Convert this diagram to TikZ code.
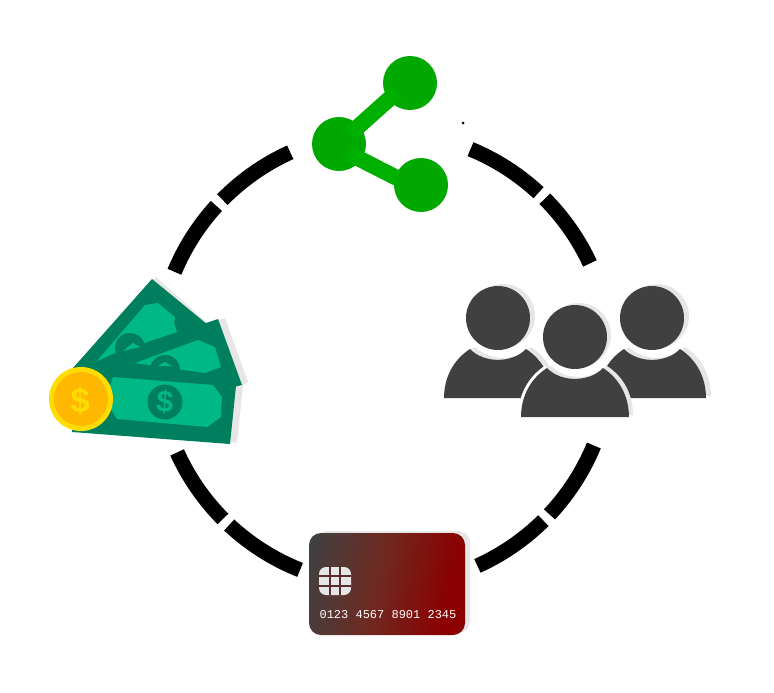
\documentclass[tikz,border=0pt]{standalone}
\usepackage{fontspec}
\setmainfont{Liberation Sans}
\setmonofont{Liberation Mono}
\definecolor{ringblack}{HTML}{000000}
\definecolor{shadowgrey}{HTML}{E6E6E6}
\definecolor{sharegreen}{HTML}{00A800}
\definecolor{sharebar}{HTML}{00B000}
\definecolor{peoplegrey}{HTML}{404040}
\definecolor{billdark}{HTML}{007F5F}
\definecolor{billlight}{HTML}{00B884}
\definecolor{coinrim}{HTML}{FFDD00}
\definecolor{coinfill}{HTML}{FFB700}
\definecolor{cardred}{HTML}{8B0000}
\definecolor{cardbrown}{HTML}{6E2A22}
\pgfdeclarehorizontalshading{cardfade}{100bp}{color(0bp)=(peoplegrey); color(22bp)=(peoplegrey); color(46bp)=(cardbrown); color(72bp)=(cardred); color(100bp)=(cardred)}
\tikzset{%
    ringarc/.style = {draw=ringblack, line width=15pt},
    sharebubble/.style = {fill=sharegreen},
    sharelink/.style = {draw=sharebar, line width=16pt},
    person/.pic = {
        \fill[pic actions] (0,0) circle[radius=32];
        \fill[pic actions] (-28,31) .. controls (-14,45.5) and (14,45.5) .. (28,31)
            .. controls (45,42) and (54,60) .. (54,80) -- (-54,80)
            .. controls (-54,60) and (-45,42) .. (-28,31) -- cycle;
    },
    dollar/.style = {font=\fontsize{#1}{#1}\selectfont\bfseries, inner sep=0pt},
}
\begin{document}
\begin{tikzpicture}[x=1pt, y=-1pt]
    \useasboundingbox (0,0) rectangle (774,693);
    \fill[white] (0,0) rectangle (774,693);

    % ring
    \foreach \from/\to in {-67.6/-47.1, -44.9/-24.9, 22.4/43.2, 45.4/65.7,
        111.7/133, 135.2/155.7, 202.6/222.4, 224.6/245.6} {
        \draw[ringarc] (384,359) ++(\from:227) arc[start angle=\from, end angle=\to, radius=227];
    }

    % share
    \fill[sharebubble] (410,83) circle[radius=27];
    \fill[sharebubble] (339,144) circle[radius=27];
    \fill[sharebubble] (421,185) circle[radius=27];
    \draw[sharelink] (350,134) -- (397,92);
    \draw[sharelink] (348,153) -- (397,178);
    \fill[black] (463,123) circle[radius=1.5];

    % people
    \foreach \headx/\heady in {498/318, 652/318} {
        \pic[fill=shadowgrey] at (\headx+5,\heady-2) {person};
        \pic[fill=peoplegrey] at (\headx,\heady) {person};
    }
    \pic[fill=shadowgrey] at (579,335) {person};
    \pic[fill=white] at (575,337) {person};
    \begin{scope}[xshift=575pt, yshift=-337pt]
        \draw[white, line width=6pt] (-28,31) .. controls (-45,42) and (-54,60) .. (-54,80);
        \draw[white, line width=6pt] (-32,0) arc[start angle=180, end angle=90, radius=32];
    \end{scope}
    \pic[fill=peoplegrey] at (575,337) {person};

    % card
    \fill[shadowgrey, rounded corners=12pt] (315,531) rectangle (470,633);
    \shade[shading=cardfade, shading angle=-12, rounded corners=12pt] (309,533) rectangle (465,635);
    \fill[shadowgrey, rounded corners=7pt] (319,567) rectangle (351,595);
    \foreach \gridx in {330,340} { \draw[draw=peoplegrey!70!cardred, line width=1.4pt] (\gridx,567) -- (\gridx,595); }
    \foreach \gridy in {576,586} { \draw[draw=peoplegrey!70!cardred, line width=1.4pt] (319,\gridy) -- (351,\gridy); }
    \node[text=white, font=\fontsize{12}{12}\selectfont\ttfamily, inner sep=0pt] (cardnumber) at (388,615) {0123 4567 8901 2345};

    % money
    \fill[shadowgrey] (73,368) -- (156,277) -- (232,345) -- (150,400) -- cycle;
    \fill[shadowgrey] (73,368) -- (225,318) -- (248,382) -- (243,385) -- (237,443) -- (100,420) -- cycle;
    \fill[billdark] (73,368) -- (152,279) -- (225,339) -- (150,400) -- cycle;
    \fill[billdark] (73,368) -- (218,319) -- (242,385) -- (100,420) -- cycle;
    \fill[billlight] (97,361) -- (145,305) -- (158,303) -- (175,317) -- (174,323) -- (177,332) -- (115,353) -- cycle;
    \fill[billdark] (130,348) circle[radius=15];
    \fill[billlight] (123,351) -- (133,343) -- (140,347) -- cycle;
    \fill[billlight] (135,363) -- (198,340) -- (215,347) -- (221,367) -- (205,373) -- cycle;
    \fill[billdark] (165,370) circle[radius=15];
    \fill[billlight] (158,366) -- (165,362) -- (172,366) -- cycle;
    \fill[billdark] (78,362) -- (236,386) -- (230,444) -- (72,432) -- cycle;
    \fill[billlight] (113,377) -- (213,385) -- (222,397) -- (221,417) -- (207,427) -- (117,419) -- (105,400) -- cycle;
    \fill[billdark] (165,402) circle[radius=17.5];
    \node[dollar=30, text=billlight, rotate=-4] (billdollar) at (165,402) {\$};
    \fill[coinrim] (81,399) circle[radius=32];
    \fill[coinfill] (81,399) circle[radius=27];
    \node[dollar=34, text=coinrim] (coindollar) at (80,401) {\$};
\end{tikzpicture}
\end{document}
